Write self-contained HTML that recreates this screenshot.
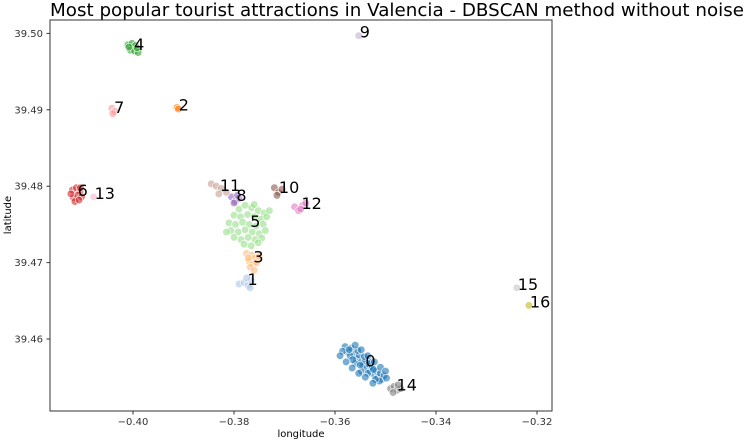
<!DOCTYPE html>
<html><head><meta charset="utf-8">
<style>
html,body{margin:0;padding:0;background:#fff;width:746px;height:447px;overflow:hidden}
svg{display:block;font-family:"DejaVu Sans","Liberation Sans",sans-serif}
</style></head>
<body>
<svg id="chart" width="746" height="447" viewBox="0 0 746 447" xmlns="http://www.w3.org/2000/svg">
<text x="50" y="16" font-size="18" fill="#000" textLength="694" lengthAdjust="spacingAndGlyphs">Most popular tourist attractions in Valencia - DBSCAN method without noise</text>
<rect x="50" y="20" width="502" height="391" fill="#fff" stroke="#333" stroke-width="1"/>
<g id="xticks"></g>
<g id="yticks"></g>
<g id="points"></g>
<g id="labels"></g>
<text x="301" y="437" font-size="10" text-anchor="middle" fill="#000">longitude</text>
<text x="11" y="215" font-size="10" text-anchor="middle" fill="#000" transform="rotate(-90 11 215)">latitude</text>
</svg>
<script>
const xTickValues = [-0.40, -0.38, -0.36, -0.34, -0.32];
const xTickLabels = ["\u22120.40", "\u22120.38", "\u22120.36", "\u22120.34", "\u22120.32"];
const yTickValues = [39.46, 39.47, 39.48, 39.49, 39.50];
const yTickLabels = ["39.46", "39.47", "39.48", "39.49", "39.50"];
const clusterIds = [0,1,2,3,4,5,6,7,8,9,10,11,12,13,14,15,16];
const clusterColors = ["#1f77b4","#aec7e8","#ff7f0e","#ffbb78","#2ca02c","#98df8a","#d62728","#ff9896","#9467bd","#c5b0d5","#8c564b","#c49c94","#e377c2","#f7b6d2","#7f7f7f","#c7c7c7","#bcbd22"];
const c0 = [[-0.3580,39.4590],[-0.3575,39.4583],[-0.3568,39.4588],[-0.3562,39.4580],[-0.3570,39.4578],[-0.3558,39.4574],[-0.3552,39.4579],[-0.3548,39.4570],[-0.3545,39.4565],[-0.3540,39.4572],[-0.3537,39.4562],[-0.3533,39.4567],[-0.3530,39.4558],[-0.3526,39.4563],[-0.3522,39.4553],[-0.3518,39.4558],[-0.3515,39.4550],[-0.3510,39.4555],[-0.3507,39.4547],[-0.3503,39.4552],[-0.3555,39.4585],[-0.3560,39.4568],[-0.3542,39.4577],[-0.3528,39.4570],[-0.3512,39.4545],[-0.3585,39.4584],[-0.3565,39.4573],[-0.3548,39.4558],[-0.3535,39.4555],[-0.3520,39.4547],[-0.3572,39.4586],[-0.3550,39.4566],[-0.3524,39.4560],[-0.3498,39.4549],[-0.3560,39.4592],[-0.3548,39.4586],[-0.3535,39.4578],[-0.3522,39.4570],[-0.3510,39.4563],[-0.3578,39.4570],[-0.3566,39.4562],[-0.3553,39.4555],[-0.3540,39.4550],[-0.3525,39.4542],[-0.3590,39.4578],[-0.3500,39.4558]];
const c1 = [[-0.3790,39.4672],[-0.3780,39.4674],[-0.3772,39.4670],[-0.3766,39.4677],[-0.3775,39.4680],[-0.3768,39.4667]];
const c2 = [[-0.3913,39.4903],[-0.3910,39.4901]];
const c3 = [[-0.3775,39.4712],[-0.3765,39.4710],[-0.3758,39.4706],[-0.3770,39.4702],[-0.3762,39.4698],[-0.3755,39.4700],[-0.3768,39.4694],[-0.3760,39.4690],[-0.3750,39.4708],[-0.3772,39.4706]];
const c4 = [[-0.4010,39.4985],[-0.4002,39.4987],[-0.3995,39.4984],[-0.4005,39.4978],[-0.3997,39.4977],[-0.3990,39.4975],[-0.4008,39.4982],[-0.3992,39.4981]];
const c5 = [[-0.3790,39.4770],[-0.3778,39.4775],[-0.3765,39.4772],[-0.3752,39.4768],[-0.3740,39.4765],[-0.3800,39.4762],[-0.3787,39.4760],[-0.3773,39.4763],[-0.3760,39.4760],[-0.3746,39.4757],[-0.3735,39.4760],[-0.3810,39.4752],[-0.3797,39.4750],[-0.3783,39.4753],[-0.3770,39.4750],[-0.3756,39.4748],[-0.3742,39.4750],[-0.3806,39.4742],[-0.3792,39.4740],[-0.3778,39.4743],[-0.3764,39.4740],[-0.3750,39.4738],[-0.3738,39.4742],[-0.3800,39.4733],[-0.3786,39.4730],[-0.3772,39.4733],[-0.3758,39.4730],[-0.3745,39.4732],[-0.3780,39.4724],[-0.3766,39.4722],[-0.3752,39.4726],[-0.3730,39.4768],[-0.3815,39.4740],[-0.3760,39.4776]];
const c6 = [[-0.4120,39.4795],[-0.4112,39.4798],[-0.4105,39.4793],[-0.4118,39.4785],[-0.4110,39.4788],[-0.4102,39.4786],[-0.4115,39.4780],[-0.4107,39.4782],[-0.4123,39.4790],[-0.4104,39.4798]];
const c7 = [[-0.4042,39.4902],[-0.4036,39.4898],[-0.4040,39.4895]];
const c8 = [[-0.3805,39.4786],[-0.3798,39.4780],[-0.3790,39.4784],[-0.3800,39.4778],[-0.3793,39.4788]];
const c9 = [[-0.3553,39.4997]];
const c10 = [[-0.3720,39.4798],[-0.3712,39.4792],[-0.3705,39.4796],[-0.3715,39.4788]];
const c11 = [[-0.3845,39.4803],[-0.3835,39.4800],[-0.3825,39.4797],[-0.3815,39.4792],[-0.3830,39.4790]];
const c12 = [[-0.3680,39.4773],[-0.3672,39.4768],[-0.3664,39.4775],[-0.3668,39.4770],[-0.3658,39.4778]];
const c13 = [[-0.4078,39.4786]];
const c14 = [[-0.3490,39.4535],[-0.3483,39.4538],[-0.3477,39.4533],[-0.3470,39.4535],[-0.3485,39.4530],[-0.3475,39.4540]];
const c15 = [[-0.3240,39.4667]];
const c16 = [[-0.3216,39.4644]];
const clusterPoints = [c0,c1,c2,c3,c4,c5,c6,c7,c8,c9,c10,c11,c12,c13,c14,c15,c16];

const NS = "http://www.w3.org/2000/svg";
function xScale(v){ return 133 + (v + 0.40) * 5050; }
function yScale(v){ return 339 - (v - 39.46) * 7640; }

const xg = document.getElementById('xticks');
xTickValues.forEach((v,i)=>{
  const x = xScale(v);
  const t = document.createElementNS(NS,'line');
  
  
  t.setAttribute('x1',x);t.setAttribute('x2',x);t.setAttribute('y1',411);t.setAttribute('y2',414.5);
  t.setAttribute('stroke','#333');
  xg.appendChild(t);
  const l = document.createElementNS(NS,'text');
  
  
  l.setAttribute('x',x);l.setAttribute('y',425);
  l.setAttribute('font-size','10');l.setAttribute('text-anchor','middle');l.setAttribute('fill','#333');
  l.textContent = xTickLabels[i];
  xg.appendChild(l);
});
const yg = document.getElementById('yticks');
yTickValues.forEach((v,i)=>{
  const y = yScale(v);
  const t = document.createElementNS(NS,'line');
  
  
  t.setAttribute('x1',46.5);t.setAttribute('x2',50);t.setAttribute('y1',y);t.setAttribute('y2',y);
  t.setAttribute('stroke','#333');
  yg.appendChild(t);
  const l = document.createElementNS(NS,'text');
  
  
  l.setAttribute('x',43);l.setAttribute('y',y+3.5);
  l.setAttribute('font-size','10');l.setAttribute('text-anchor','end');l.setAttribute('fill','#333');
  l.textContent = yTickLabels[i];
  yg.appendChild(l);
});

const pg = document.getElementById('points');
const lg = document.getElementById('labels');
clusterPoints.forEach((pts,ci)=>{
  let sx=0, sy=0;
  pts.forEach(p=>{
    const c = document.createElementNS(NS,'circle');
    
    
    c.setAttribute('cx',xScale(p[0]));c.setAttribute('cy',yScale(p[1]));c.setAttribute('r',3.8);
    c.setAttribute('fill',clusterColors[ci]);c.setAttribute('fill-opacity','0.6');
    c.setAttribute('stroke','#fff');c.setAttribute('stroke-width','0.6');
    pg.appendChild(c);
    sx+=p[0]; sy+=p[1];
  });
  const mx = sx/pts.length, my = sy/pts.length;
  const t = document.createElementNS(NS,'text');
  
  
  t.setAttribute('x',xScale(mx)+1);t.setAttribute('y',yScale(my)+2);
  t.setAttribute('font-size','16');t.setAttribute('fill','#000');
  t.textContent = String(clusterIds[ci]);
  lg.appendChild(t);
});
</script>
</body></html>
